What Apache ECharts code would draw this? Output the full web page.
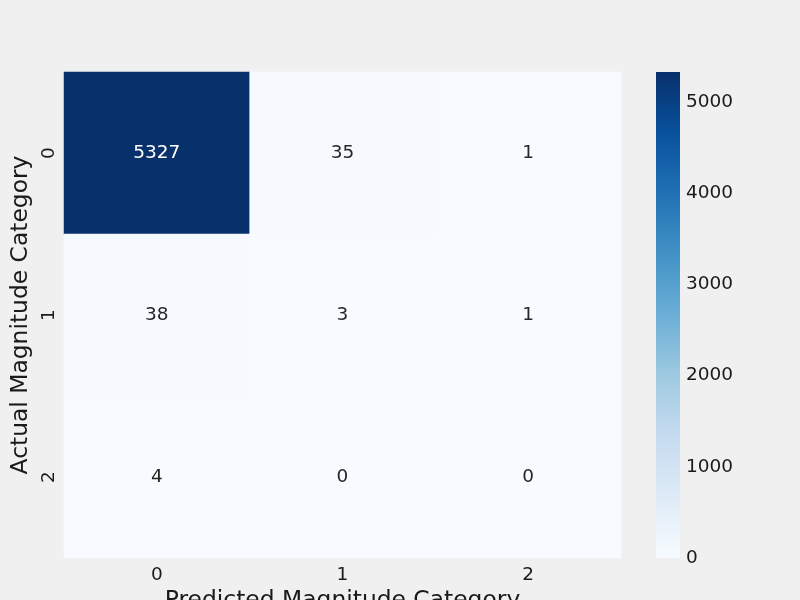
<!DOCTYPE html>
<html><head><meta charset="utf-8">
<script src="https://cdn.jsdelivr.net/npm/echarts@6/dist/echarts.min.js"></script>
<style>html,body{margin:0;padding:0;background:#f0f0f0;}#c{width:800px;height:600px;}</style>
</head><body><div id="c"></div>
<script>
const predictedCategories = ['0', '1', '2'];
const actualCategories = ['0', '1', '2'];
const matrixRow0 = [5327, 35, 1];
const matrixRow1 = [38, 3, 1];
const matrixRow2 = [4, 0, 0];
const colorbarTicks = [0, 1000, 2000, 3000, 4000, 5000];
const blues = ['#f7fbff','#deebf7','#c6dbef','#9ecae1','#6baed6','#4292c6','#2171b5','#08519c','#08306b'];

const rows = [matrixRow0, matrixRow1, matrixRow2];
const maxVal = Math.max(...rows.flat());
const data = [];
rows.forEach((r, yi) => r.forEach((v, xi) => {
  data.push({ value: [xi, yi, v], label: { color: v / maxVal > 0.6 ? '#ffffff' : '#262626' } });
}));

const gradientStops = blues.slice().reverse().map((c, i, a) => ({ offset: i / (a.length - 1), color: c }));

const FONT = 'DejaVu Sans';
const chart = echarts.init(document.getElementById('c'));
chart.setOption({
  backgroundColor: '#f0f0f0',
  textStyle: { fontFamily: FONT },
  animation: false,
  grid: [
    { left: 64, top: 72, width: 557, height: 486, outerBoundsMode: 'none', containLabel: false },
    { left: 656, top: 72, width: 24, height: 486, outerBoundsMode: 'none', containLabel: false }
  ],
  xAxis: [
    { type: 'category', gridIndex: 0, data: predictedCategories,
      name: 'Predicted Magnitude Category', nameLocation: 'middle', nameGap: 31,
      nameTextStyle: { fontSize: 23.4, color: '#1a1a1a', fontFamily: FONT },
      axisLine: { show: false }, axisTick: { show: false }, splitLine: { show: false },
      axisLabel: { fontSize: 18.5, color: '#1a1a1a', margin: 8, fontFamily: FONT } },
    { type: 'category', gridIndex: 1, data: ['cb'], show: false }
  ],
  yAxis: [
    { type: 'category', gridIndex: 0, data: actualCategories, inverse: true,
      name: 'Actual Magnitude Category', nameLocation: 'middle', nameGap: 27,
      nameTextStyle: { fontSize: 23.4, color: '#1a1a1a', fontFamily: FONT },
      axisLine: { show: false }, axisTick: { show: false }, splitLine: { show: false },
      axisLabel: { fontSize: 18.5, color: '#1a1a1a', rotate: 90, margin: 5, fontFamily: FONT } },
    { type: 'value', gridIndex: 1, position: 'right', min: 0, max: maxVal, interval: 1000,
      axisLine: { show: false }, axisTick: { show: false }, splitLine: { show: false },
      axisLabel: { fontSize: 18.5, color: '#1a1a1a', margin: 6, fontFamily: FONT,
        formatter: v => colorbarTicks.includes(v) ? String(v) : '' } }
  ],
  visualMap: {
    type: 'continuous', seriesIndex: 0, min: 0, max: maxVal, show: false,
    inRange: { color: blues }
  },
  series: [
    { type: 'heatmap', xAxisIndex: 0, yAxisIndex: 0, data: data,
      label: { show: true, fontSize: 18.5, fontFamily: FONT, formatter: p => String(p.value[2]) },
      itemStyle: { borderWidth: 0 }, emphasis: { disabled: true } },
    { type: 'bar', xAxisIndex: 1, yAxisIndex: 1, data: [maxVal], barWidth: '100%', silent: true,
      itemStyle: { color: { type: 'linear', x: 0, y: 0, x2: 0, y2: 1, colorStops: gradientStops } } }
  ]
});
</script></body></html>
